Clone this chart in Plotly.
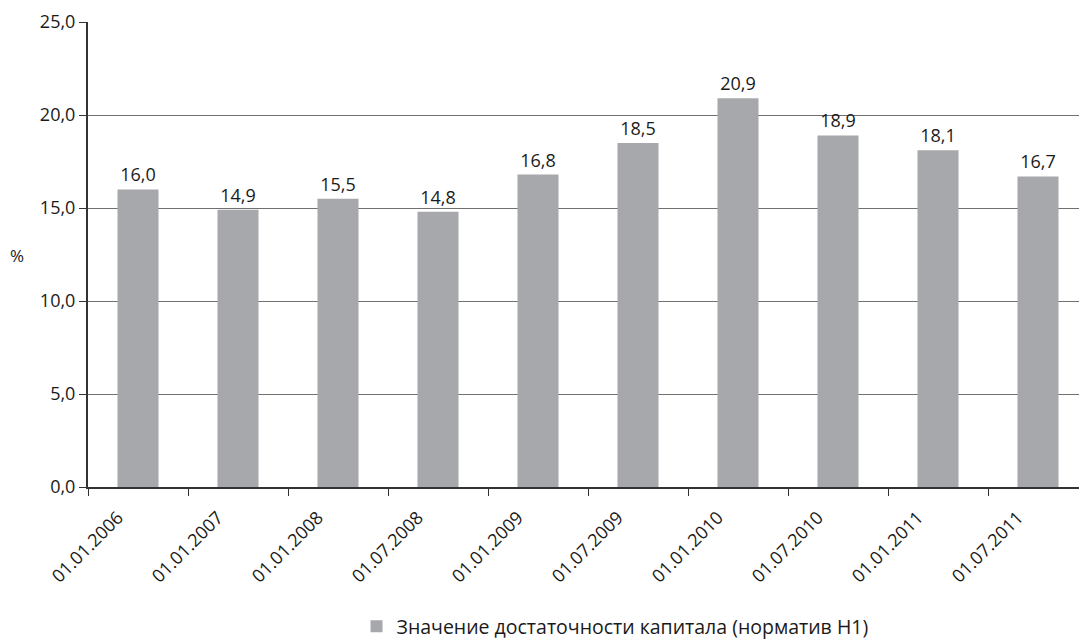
import plotly.graph_objects as go

categories = ["01.01.2006", "01.01.2007", "01.01.2008", "01.07.2008", "01.01.2009",
              "01.07.2009", "01.01.2010", "01.07.2010", "01.01.2011", "01.07.2011"]
values = [16.0, 14.9, 15.5, 14.8, 16.8, 18.5, 20.9, 18.9, 18.1, 16.7]
series_name = "Значение достаточности капитала (норматив Н1)"
y_ticks = [0, 5, 10, 15, 20, 25]
y_tick_labels = ["0,0", "5,0", "10,0", "15,0", "20,0", "25,0"]

FONT = "Open Sans, Noto Sans, sans-serif"

fig = go.Figure()
fig.add_trace(go.Bar(
    x=categories, y=values, name=series_name,
    marker=dict(color="#a7a8ab", line=dict(width=0)),
    width=0.41,
    texttemplate="%{y:.1f}", textposition="outside",
    textfont=dict(size=18, color="#1a1a1a", family=FONT),
    cliponaxis=False,
))

fig.update_layout(
    width=1079, height=640,
    margin=dict(l=88, r=0, t=22, b=153, autoexpand=False),
    paper_bgcolor="white", plot_bgcolor="white",
    separators=", ",
    font=dict(family=FONT, size=18, color="#1a1a1a"),
    showlegend=True,
    legend=dict(orientation="h", x=0.5318, xanchor="center",
                yref="container", y=0.021, yanchor="middle",
                font=dict(size=19.5, family=FONT), itemsizing="constant",
                itemwidth=30),
)
fig.update_xaxes(
    type="category", range=[-0.5, 9.41], automargin=False,
    tickson="boundaries", ticks="outside", ticklen=7, tickcolor="#333",
    showline=True, linecolor="#333", linewidth=2,
    tickangle=-45, tickfont=dict(size=18, family=FONT),
    ticklabelshift=-20, ticklabelstandoff=11,
    showgrid=False,
)
fig.update_yaxes(
    range=[0, 25], tickvals=y_ticks, ticktext=y_tick_labels, automargin=False,
    ticks="outside", ticklen=7, tickcolor="#333",
    showline=True, linecolor="#333", linewidth=2,
    showgrid=True, gridcolor="#707070", gridwidth=1.3,
    zeroline=False, tickfont=dict(size=18, family=FONT),
    title=dict(text=""),
)
fig.add_annotation(text="%", xref="paper", yref="paper", x=-0.0716, y=0.497,
                   xanchor="center", yanchor="middle", showarrow=False,
                   font=dict(size=17, family=FONT))

fig.write_html("out.html", config={"displayModeBar": False},
               post_script="document.body.style.margin='0';")
